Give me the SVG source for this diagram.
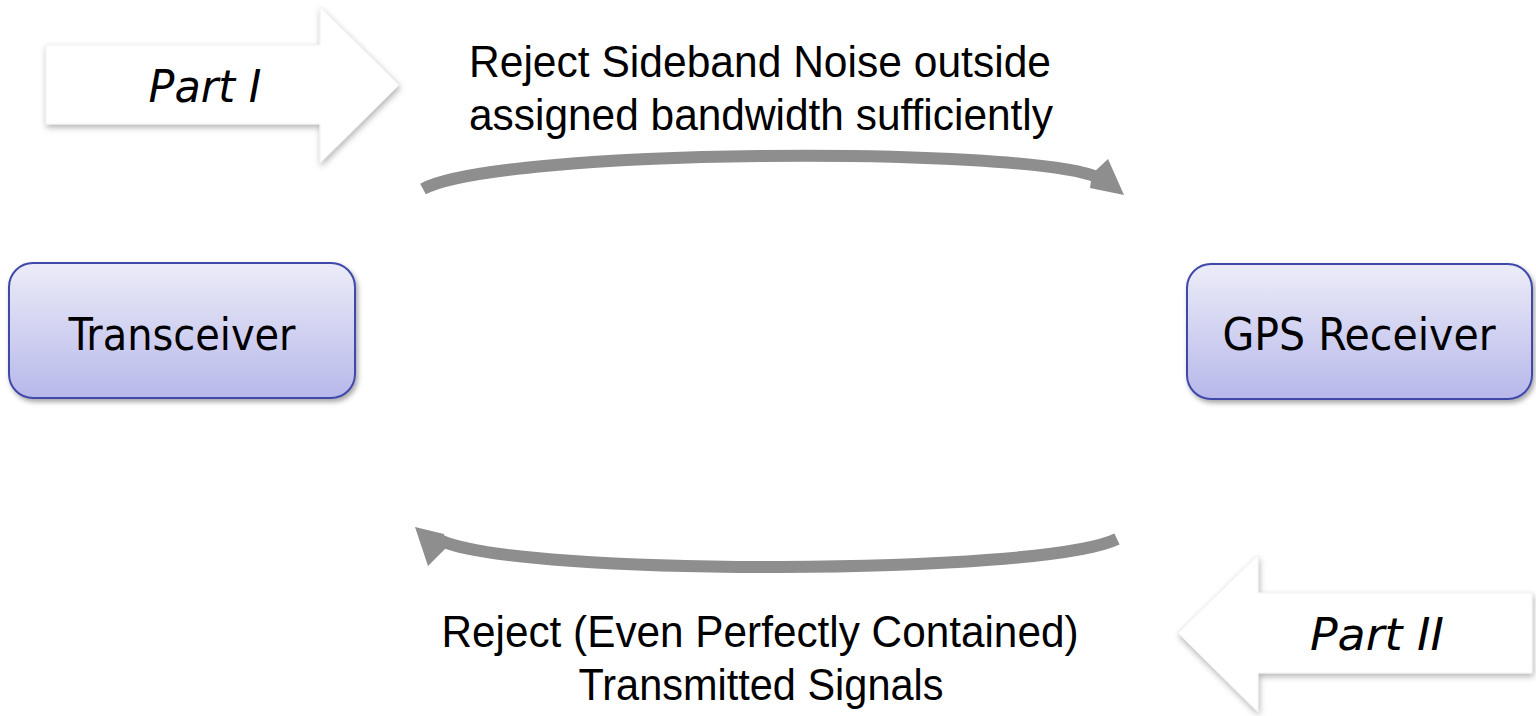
<svg xmlns="http://www.w3.org/2000/svg" width="1536" height="716" viewBox="0 0 1536 716">
<defs>
<linearGradient id="boxFill" x1="0" y1="0" x2="0" y2="1">
<stop offset="0" stop-color="#ececf8"/>
<stop offset="1" stop-color="#b7b8ea"/>
</linearGradient>
<filter id="shadow" x="-10%" y="-10%" width="125%" height="130%">
<feDropShadow dx="2" dy="3" stdDeviation="2.5" flood-color="#000" flood-opacity="0.35"/>
</filter>
<filter id="shadowSoft" x="-10%" y="-10%" width="125%" height="130%">
<feDropShadow dx="1" dy="3" stdDeviation="3" flood-color="#000" flood-opacity="0.3"/>
</filter>
</defs>
<style>
.box{fill:url(#boxFill);stroke:#3f49a9;stroke-width:2;filter:url(#shadow);}
.part{fill:#ffffff;stroke:#f0f0f0;stroke-width:1;filter:url(#shadowSoft);}
.node{font-family:'DejaVu Sans Condensed','DejaVu Sans',sans-serif;font-size:44px;fill:#000;text-anchor:middle;}
.partText{font-family:'DejaVu Sans Condensed','DejaVu Sans',sans-serif;font-size:44px;font-style:italic;fill:#000;text-anchor:middle;}
.label{font-family:'Liberation Sans',Arial,sans-serif;font-size:44px;fill:#000;text-anchor:middle;}
.band{fill:none;stroke:#8e8e8e;stroke-width:12;stroke-linecap:butt;}
.head{fill:#8e8e8e;}
</style>
<rect width="1536" height="716" fill="#ffffff"/>

<g id="part1">
<polygon class="part" points="46,45 320,45 320,7 399,85 320,163 320,124 46,124"/>
<text class="partText" x="205" y="102" textLength="113" lengthAdjust="spacingAndGlyphs">Part I</text>
</g>

<g id="part2">
<polygon class="part" points="1532,593 1258,593 1258,555 1178,633 1258,712 1258,673 1532,673"/>
<text class="partText" x="1377" y="650" textLength="134" lengthAdjust="spacingAndGlyphs">Part II</text>
</g>

<g id="transceiver">
<rect class="box" x="9" y="263" width="346" height="135" rx="24" ry="24"/>
<text class="node" x="182" y="350" textLength="227" lengthAdjust="spacingAndGlyphs">Transceiver</text>
</g>

<g id="gps-receiver">
<rect class="box" x="1187" y="264" width="345" height="135" rx="24" ry="24"/>
<text class="node" x="1359" y="350" textLength="273" lengthAdjust="spacingAndGlyphs">GPS Receiver</text>
</g>

<g id="connectors">
<path class="band" d="M423,189 C500,148 1020,146 1097,177"/>
<polygon class="head" points="1108,159 1124,195 1090,188 1092,174"/>
<path class="band" d="M1117,539 C1040,576 520,576 442,541"/>
<polygon class="head" points="415,527 428,566 447,547 444,534"/>
</g>

<g id="labels">
<text class="label" x="760" y="77" textLength="582" lengthAdjust="spacingAndGlyphs">Reject Sideband Noise outside</text>
<text class="label" x="761" y="130" textLength="584" lengthAdjust="spacingAndGlyphs">assigned bandwidth sufficiently</text>
<text class="label" x="760" y="647" textLength="637" lengthAdjust="spacingAndGlyphs">Reject (Even Perfectly Contained)</text>
<text class="label" x="761" y="700" textLength="365" lengthAdjust="spacingAndGlyphs">Transmitted Signals</text>
</g>
</svg>
